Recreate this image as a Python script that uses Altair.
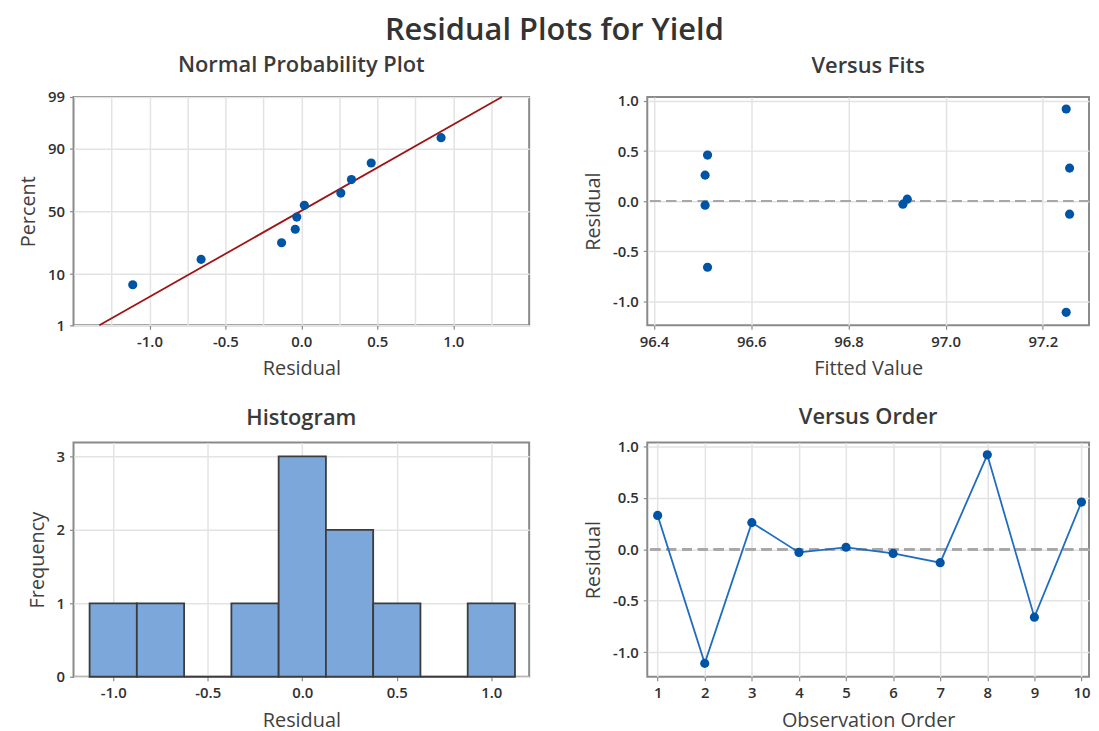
import altair as alt
import pandas as pd
from statistics import NormalDist

# ---------------- data ----------------
obs = [1, 2, 3, 4, 5, 6, 7, 8, 9, 10]
residuals = [0.33, -1.11, 0.26, -0.03, 0.02, -0.04, -0.13, 0.92, -0.66, 0.46]
fitted = [97.255, 97.248, 96.505, 96.912, 96.921, 96.505, 97.255, 97.248, 96.51, 96.51]
prob_percent = [6.7, 16.3, 26.0, 35.6, 45.2, 54.8, 64.4, 74.0, 83.7, 93.3]
fit_line_resid = [-1.33, 1.32]
fit_line_percent = [1, 99]
hist_centers = [-1.0, -0.75, -0.5, -0.25, 0.0, 0.25, 0.5, 0.75, 1.0]
hist_counts = [1, 1, 0, 1, 3, 2, 1, 0, 1]
percent_ticks = [1, 10, 50, 90, 99]
resid_grid = [-1.25, -1.0, -0.75, -0.5, -0.25, 0.0, 0.25, 0.5, 0.75, 1.0, 1.25]
fit_ticks = [96.4, 96.6, 96.8, 97.0, 97.2]
hist_ticks = [-1.0, -0.5, 0.0, 0.5, 1.0]
freq_ticks = [0, 1, 2, 3]
order_ticks = obs

FONT = "Open Sans"
PT_COLOR = "#0054A6"
LINE_COLOR = "#1F6CC0"
RED = "#9E1515"
BAR_FILL = "#7BA7DA"
BAR_STROKE = "#3C3C3C"
REF = "#A8A8A8"

nd = NormalDist()
def z(p):
    return nd.inv_cdf(p / 100.0)

prob_df = pd.DataFrame({
    "resid": sorted(residuals),
    "z": [z(p) for p in prob_percent],
})
line_df = pd.DataFrame({
    "resid": fit_line_resid,
    "z": [z(p) for p in fit_line_percent],
})
fits_df = pd.DataFrame({"fit": fitted, "resid": residuals})
order_df = pd.DataFrame({"obs": obs, "resid": residuals})
hist_df = pd.DataFrame({
    "lo": [c - 0.125 for c in hist_centers],
    "hi": [c + 0.125 for c in hist_centers],
    "count": hist_counts,
})

num_label = "replace(format(datum.value, '.1f'), '\u2212', '-')"

pct_label = ""
for t in percent_ticks:
    pct_label += f"abs(datum.value - ({z(t):.6f})) < 0.001 ? '{t}' : "
pct_label += "''"

half_test = "abs(datum.value * 2 - round(datum.value * 2)) < 0.01"

LW, RW = 459, 445
TH, BH = 230, 236
PT_SIZE = 85

def ptitle(txt, off):
    return alt.TitleParams(txt, fontSize=22, fontWeight=600, color="#3A3A3A",
                           font=FONT, anchor="middle", offset=off)

# ---------------- Normal probability plot ----------------
x_np = alt.X("resid:Q", title="Residual",
             scale=alt.Scale(domain=[-1.5, 1.5], nice=False, zero=False),
             axis=alt.Axis(values=resid_grid,
                           labelExpr=f"{half_test} ? {num_label} : ''",
                           tickColor={"condition": {"test": half_test, "value": "#8A8A8A"},
                                      "value": "transparent"}))
y_np = alt.Y("z:Q", title="Percent",
             scale=alt.Scale(domain=[z(1), z(99)], nice=False, zero=False),
             axis=alt.Axis(values=[z(t) for t in percent_ticks], labelExpr=pct_label))

np_line = alt.Chart(line_df).mark_line(color=RED, strokeWidth=1.8).encode(x=x_np, y=y_np)
np_pts = alt.Chart(prob_df).mark_circle(size=PT_SIZE, color=PT_COLOR, opacity=1).encode(x=x_np, y=y_np)
normal_plot = alt.layer(np_line, np_pts).properties(
    width=LW, height=TH, title=ptitle("Normal Probability Plot", 13))

# ---------------- Versus fits ----------------
y_res = dict(title="Residual",
             scale=alt.Scale(domain=[-1.24, 1.04], nice=False, zero=False),
             axis=alt.Axis(values=[-1.0, -0.5, 0.0, 0.5, 1.0], labelExpr=num_label))

x_fit = alt.X("fit:Q", title="Fitted Value",
              scale=alt.Scale(domain=[96.386, 97.295], nice=False, zero=False),
              axis=alt.Axis(values=fit_ticks, labelExpr=num_label))
fits_ref = alt.Chart(fits_df).mark_rule(color=REF, strokeWidth=1.8, strokeDash=[10, 6]).encode(
    y=alt.Y(datum=0, **y_res))
fits_pts = alt.Chart(fits_df).mark_circle(size=PT_SIZE, color=PT_COLOR, opacity=1).encode(
    x=x_fit, y=alt.Y("resid:Q", **y_res))
fits_plot = alt.layer(fits_ref, fits_pts).properties(
    width=RW, height=TH, title=ptitle("Versus Fits", 16))

# ---------------- Histogram ----------------
x_h = alt.X("lo:Q", title="Residual",
            scale=alt.Scale(domain=[-1.21, 1.2], nice=False, zero=False),
            axis=alt.Axis(values=hist_ticks, labelExpr=num_label))
hist = alt.Chart(hist_df).mark_rect(fill=BAR_FILL, stroke=BAR_STROKE, strokeWidth=1.8).encode(
    x=x_h, x2="hi:Q",
    y=alt.Y("count:Q", title="Frequency",
            scale=alt.Scale(domain=[0, 3.19], nice=False),
            axis=alt.Axis(values=freq_ticks, format="d")),
    y2=alt.Y2(datum=0),
).properties(width=LW, height=BH, title=ptitle("Histogram", 13))

# ---------------- Versus order ----------------
x_o = alt.X("obs:Q", title="Observation Order",
            scale=alt.Scale(domain=[0.78, 10.16], nice=False, zero=False),
            axis=alt.Axis(values=order_ticks, format="d"))
ord_ref = alt.Chart(order_df).mark_rule(color=REF, strokeWidth=1.8, strokeDash=[10, 6]).encode(
    y=alt.Y(datum=0, **y_res))
ord_line = alt.Chart(order_df).mark_line(color=LINE_COLOR, strokeWidth=1.8).encode(
    x=x_o, y=alt.Y("resid:Q", **y_res))
ord_pts = alt.Chart(order_df).mark_circle(size=PT_SIZE, color=PT_COLOR, opacity=1).encode(
    x=x_o, y=alt.Y("resid:Q", **y_res))
order_plot = alt.layer(ord_ref, ord_line, ord_pts).properties(
    width=RW, height=BH, title=ptitle("Versus Order", 11))

chart = alt.concat(
    normal_plot, fits_plot, hist, order_plot,
    columns=2,
    spacing={"row": 118, "column": 119},
    bounds="flush",
    align="each",
).properties(
    title=alt.TitleParams("Residual Plots for Yield", fontSize=31, fontWeight=600,
                          color="#333333", font=FONT, anchor="middle", offset=6),
    padding={"left": 9, "top": 5, "right": 0, "bottom": 0},
).configure_view(
    stroke="#8A8A8A", strokeWidth=2
).configure_axis(
    domain=False,
    grid=True, gridColor="#E3E3E3", gridWidth=1.5,
    tickSize=4, tickColor="#8A8A8A", tickWidth=1.2,
    labelFont=FONT, labelFontSize=15, labelFontWeight=600, labelColor="#303030",
    labelPadding=5,
    titleFont=FONT, titleFontSize=20, titleFontWeight="normal", titleColor="#404040",
    titlePadding=9,
).configure_axisX(labelAngle=0, titlePadding=10)

chart.save("out.html", embed_options={"renderer": "svg", "actions": False})
